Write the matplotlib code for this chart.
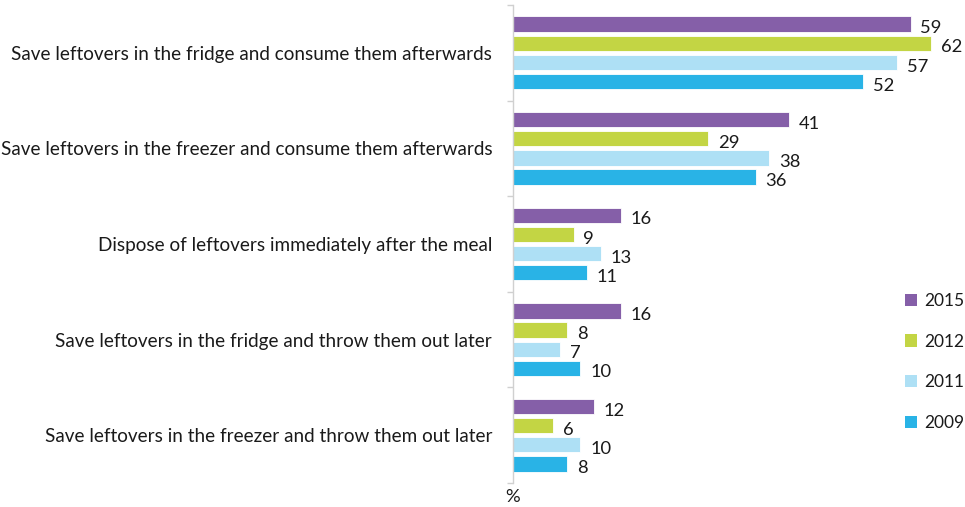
import matplotlib
matplotlib.use("Agg")
import matplotlib.pyplot as plt
from matplotlib.patches import Patch
import numpy as np

plt.rcParams['font.family'] = ['Lato', 'DejaVu Sans']

categories = [
    "Save leftovers in the fridge and consume them afterwards",
    "Save leftovers in the freezer and consume them afterwards",
    "Dispose of leftovers immediately after the meal",
    "Save leftovers in the fridge and throw them out later",
    "Save leftovers in the freezer and throw them out later",
]
years = ["2015", "2012", "2011", "2009"]
values_2015 = [59, 41, 16, 16, 12]
values_2012 = [62, 29, 9, 8, 6]
values_2011 = [57, 38, 13, 7, 10]
values_2009 = [52, 36, 11, 10, 8]
series = [values_2015, values_2012, values_2011, values_2009]
colors = ["#855fa8", "#c3d544", "#aee0f5", "#29b3e6"]

W, H = 965, 507
fig = plt.figure(figsize=(W / 100, H / 100), dpi=100)
ax_left, ax_right = 513 / W, 951 / W
ax_top, ax_bottom = 5 / H, 483 / H
ax = fig.add_axes([ax_left, 1 - ax_bottom, ax_right - ax_left, ax_bottom - ax_top])

n = len(categories)
pitch = 0.2
height = 0.16
for i, (vals, col) in enumerate(zip(series, colors)):
    ys = np.arange(n) + (i - 1.5) * pitch
    ax.barh(ys, vals, height=height, color=col, edgecolor="white", linewidth=0.6, clip_on=False)
    for y, v in zip(ys, vals):
        ax.annotate(str(v), (v, y), xytext=(7, -3), textcoords="offset points",
                    ha="left", va="center", fontsize=13.2, color="#1a1a1a", annotation_clip=False)

ax.set_xlim(0, 65)
ax.set_ylim(n - 0.5, -0.5)
ax.set_xticks([])
ax.set_yticks(np.arange(n + 1) - 0.5, minor=True)
ax.set_yticks(np.arange(n))
ax.set_yticklabels(categories, fontsize=13.6, color="#1a1a1a")
ax.tick_params(axis="y", which="major", length=0, pad=15)
ax.tick_params(axis="y", which="minor", length=4, color="#d0d0d0", width=1)
for s in ["top", "right", "bottom"]:
    ax.spines[s].set_visible(False)
ax.spines["left"].set_color("#d0d0d0")
ax.spines["left"].set_linewidth(1)

fig.text(513 / W, 1 - 497 / H, "%", ha="center", va="center", fontsize=13.2, color="#1a1a1a")

handles = [Patch(facecolor=c, edgecolor="none") for c in colors]
leg = fig.legend(handles, years, loc="upper left", bbox_to_anchor=(905 / W, 1 - 293 / H),
                 frameon=False, fontsize=12.5, handlelength=0.7, handleheight=0.7,
                 handletextpad=0.4, labelspacing=1.42, borderaxespad=0, borderpad=0)
for t in leg.get_texts():
    t.set_color("#1a1a1a")

fig.savefig("out.png", dpi=100)
